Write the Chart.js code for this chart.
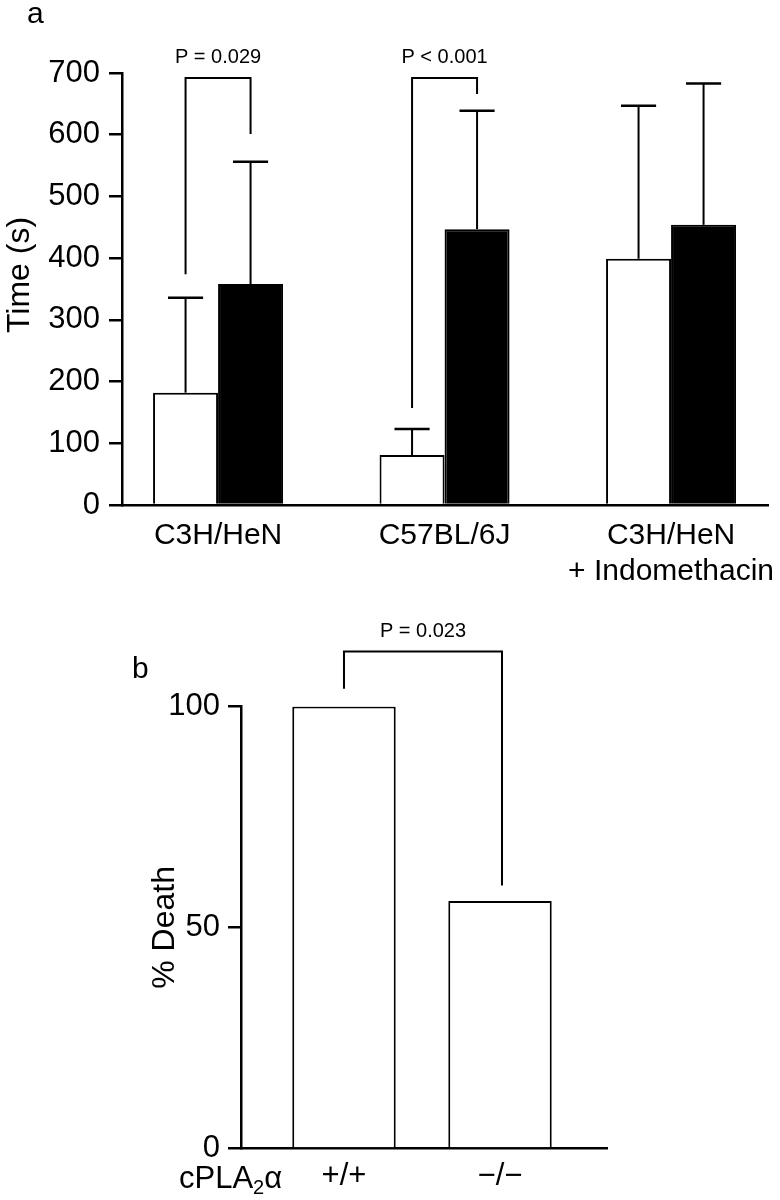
<!DOCTYPE html>
<html>
<head>
<meta charset="utf-8">
<script src="https://cdn.jsdelivr.net/npm/chart.js@4.4.1/dist/chart.umd.min.js"></script>
<style>
  body { margin: 0; background: #fff; }
  #wrap { position: relative; width: 780px; height: 1200px; }
  canvas { position: absolute; left: 0; }
  #panelA { top: 0; }
  #panelB { top: 580px; }
</style>
</head>
<body>
<div id="wrap">
  <canvas id="panelA" width="780" height="600"></canvas>
  <canvas id="panelB" width="780" height="620"></canvas>
</div>
<script>
'use strict';
// panel a - time (s), white bars / black bars, upper error only
const groupLabels = ['C3H/HeN', 'C57BL/6J', ['C3H/HeN', '+ Indomethacin']];
const whiteMeans = [182, 81, 399];
const whiteUpper = [336, 123, 647];
const blackMeans = [358, 447, 454];
const blackUpper = [556, 639, 683];
const timeTicks = [0, 100, 200, 300, 400, 500, 600, 700];
const pTextA = ['P = 0.029', 'P < 0.001'];
const bracketGroupA = [0, 1];
const bracketTopA = [692, 692];
const bracketLeftEndA = [374, 157];
const bracketRightEndA = [601, 666];

// panel b - % death by genotype
const genotypes = ['+/+', '\u2212/\u2212'];
const deathPct = [100, 56];
const deathTicks = [0, 50, 100];
const pTextB = 'P = 0.023';
const bracketTopB = 112.4;
const bracketLeftEndB = 104;
const bracketRightEndB = 59.5;

Chart.defaults.font.family = "'Liberation Sans', Arial, sans-serif";
Chart.defaults.color = '#000';

function drawBracket(ctx, lx, rx, yTop, yL, yR, text) {
  ctx.lineWidth = 2;
  ctx.lineJoin = 'miter';
  ctx.beginPath();
  ctx.moveTo(lx, yL);
  ctx.lineTo(lx, yTop);
  ctx.lineTo(rx, yTop);
  ctx.lineTo(rx, yR);
  ctx.stroke();
  ctx.font = "20px 'Liberation Sans', Arial, sans-serif";
  ctx.textAlign = 'center';
  ctx.textBaseline = 'middle';
  ctx.fillText(text, (lx + rx) / 2, yTop - 20);
}

const panelAExtras = {
  id: 'panelAExtras',
  afterDatasetsDraw(chart) {
    const ctx = chart.ctx;
    const y = chart.scales.y;
    const white = chart.getDatasetMeta(0).data;
    const black = chart.getDatasetMeta(1).data;
    ctx.save();
    ctx.strokeStyle = '#000';
    ctx.fillStyle = '#000';
    [[white, whiteUpper], [black, blackUpper]].forEach(([bars, upper]) => {
      bars.forEach((bar, i) => {
        const top = y.getPixelForValue(upper[i]);
        const half = bar.width * 0.27;
        ctx.lineWidth = 2;
        ctx.beginPath();
        ctx.moveTo(bar.x, bar.y);
        ctx.lineTo(bar.x, top);
        ctx.stroke();
        ctx.lineWidth = 2.5;
        ctx.beginPath();
        ctx.moveTo(bar.x - half, top);
        ctx.lineTo(bar.x + half, top);
        ctx.stroke();
      });
    });
    bracketGroupA.forEach((g, k) => {
      drawBracket(ctx, white[g].x, black[g].x,
        y.getPixelForValue(bracketTopA[k]),
        y.getPixelForValue(bracketLeftEndA[k]),
        y.getPixelForValue(bracketRightEndA[k]), pTextA[k]);
    });
    ctx.font = "30px 'Liberation Sans', Arial, sans-serif";
    ctx.textAlign = 'left';
    ctx.textBaseline = 'alphabetic';
    ctx.fillText('a', 27, 23);
    // y axis title, sits a little above the axis middle in the original
    ctx.save();
    ctx.translate(20, 275);
    ctx.rotate(-Math.PI / 2);
    ctx.font = "32px 'Liberation Sans', Arial, sans-serif";
    ctx.textAlign = 'center';
    ctx.textBaseline = 'middle';
    ctx.fillText('Time (s)', 0, 0);
    ctx.restore();
    ctx.restore();
  }
};

const panelBExtras = {
  id: 'panelBExtras',
  afterDatasetsDraw(chart) {
    const ctx = chart.ctx;
    const y = chart.scales.y;
    const bars = chart.getDatasetMeta(0).data;
    ctx.save();
    ctx.strokeStyle = '#000';
    ctx.fillStyle = '#000';
    drawBracket(ctx, bars[0].x, bars[1].x + 2,
      y.getPixelForValue(bracketTopB),
      y.getPixelForValue(bracketLeftEndB),
      y.getPixelForValue(bracketRightEndB), pTextB);
    ctx.textAlign = 'left';
    ctx.textBaseline = 'alphabetic';
    ctx.font = "30px 'Liberation Sans', Arial, sans-serif";
    ctx.fillText('b', 132, 98);
    // cPLA2alpha row label, same line as the genotype ticks
    const base = 608;
    let x = 179;
    ctx.font = "31px 'Liberation Sans', Arial, sans-serif";
    ctx.fillText('cPLA', x, base);
    x += ctx.measureText('cPLA').width;
    ctx.font = "20px 'Liberation Sans', Arial, sans-serif";
    ctx.fillText('2', x, base + 6);
    x += ctx.measureText('2').width;
    ctx.font = "31px 'Liberation Sans', Arial, sans-serif";
    ctx.fillText('\u03b1', x, base);
    ctx.restore();
  }
};

new Chart(document.getElementById('panelA'), {
  type: 'bar',
  data: {
    datasets: [{
      data: whiteMeans.map((v, i) => ({ x: i, y: v })),
      backgroundColor: '#fff',
      borderColor: '#000',
      borderWidth: 2,
      categoryPercentage: 0.574,
      barPercentage: 1
    }, {
      data: blackMeans.map((v, i) => ({ x: i, y: v })),
      backgroundColor: '#000',
      borderColor: '#000',
      borderWidth: 2,
      categoryPercentage: 0.574,
      barPercentage: 1
    }]
  },
  options: {
    responsive: false,
    animation: false,
    devicePixelRatio: 1,
    layout: { padding: { left: 39.3, right: 12, top: 73, bottom: 9.6 } },
    plugins: { legend: { display: false }, tooltip: { enabled: false } },
    scales: {
      x: {
        type: 'linear',
        min: -0.424,
        max: 2.428,
        offset: false,
        afterBuildTicks: s => { s.ticks = groupLabels.map((_, i) => ({ value: i })); },
        afterFit: s => { s.paddingLeft = 0; s.paddingRight = 0; },
        grid: { display: true, drawOnChartArea: false, drawTicks: true, tickLength: 12, color: 'rgba(0,0,0,0)' },
        border: { display: true, color: '#000', width: 2.5 },
        ticks: {
          padding: 0, autoSkip: false, maxRotation: 0, minRotation: 0,
          font: { size: 30, lineHeight: 1.223 },
          callback: (v, i) => groupLabels[i]
        }
      },
      y: {
        min: 0,
        max: 700,
        afterBuildTicks: s => { s.ticks = timeTicks.map(v => ({ value: v })); },
        grid: { drawOnChartArea: false, tickLength: 13, color: '#000', lineWidth: 2.5 },
        border: { color: '#000', width: 2.5 },
        ticks: { padding: 9, font: { size: 31 } },
        title: { display: false }
      }
    }
  },
  plugins: [panelAExtras]
});

new Chart(document.getElementById('panelB'), {
  type: 'bar',
  data: {
    datasets: [{
      data: deathPct.map((v, i) => ({ x: i, y: v })),
      backgroundColor: '#fff',
      borderColor: '#000',
      borderWidth: 2,
      categoryPercentage: 0.663,
      barPercentage: 1
    }]
  },
  options: {
    responsive: false,
    animation: false,
    devicePixelRatio: 1,
    layout: { padding: { left: 146, right: 172.5, top: 126.4, bottom: 4.9 } },
    plugins: { legend: { display: false }, tooltip: { enabled: false } },
    scales: {
      x: {
        type: 'linear',
        min: -0.66,
        max: 1.689,
        offset: false,
        afterBuildTicks: s => { s.ticks = genotypes.map((_, i) => ({ value: i })); },
        afterFit: s => { s.paddingLeft = 0; s.paddingRight = 0; },
        grid: { display: true, drawOnChartArea: false, drawTicks: true, tickLength: 9.5, color: 'rgba(0,0,0,0)' },
        border: { display: true, color: '#000', width: 2.5 },
        ticks: {
          padding: 0, autoSkip: false, maxRotation: 0, minRotation: 0,
          font: { size: 31, lineHeight: 1.2 },
          callback: (v, i) => genotypes[i]
        }
      },
      y: {
        min: 0,
        max: 100,
        afterBuildTicks: s => { s.ticks = deathTicks.map(v => ({ value: v })); },
        grid: { drawOnChartArea: false, tickLength: 13, color: '#000', lineWidth: 2.5 },
        border: { color: '#000', width: 2.5 },
        ticks: { padding: 8, font: { size: 31 } },
        title: { display: true, text: '% Death', font: { size: 32 }, padding: { top: 0, bottom: -24.1 } }
      }
    }
  },
  plugins: [panelBExtras]
});
</script>
</body>
</html>
